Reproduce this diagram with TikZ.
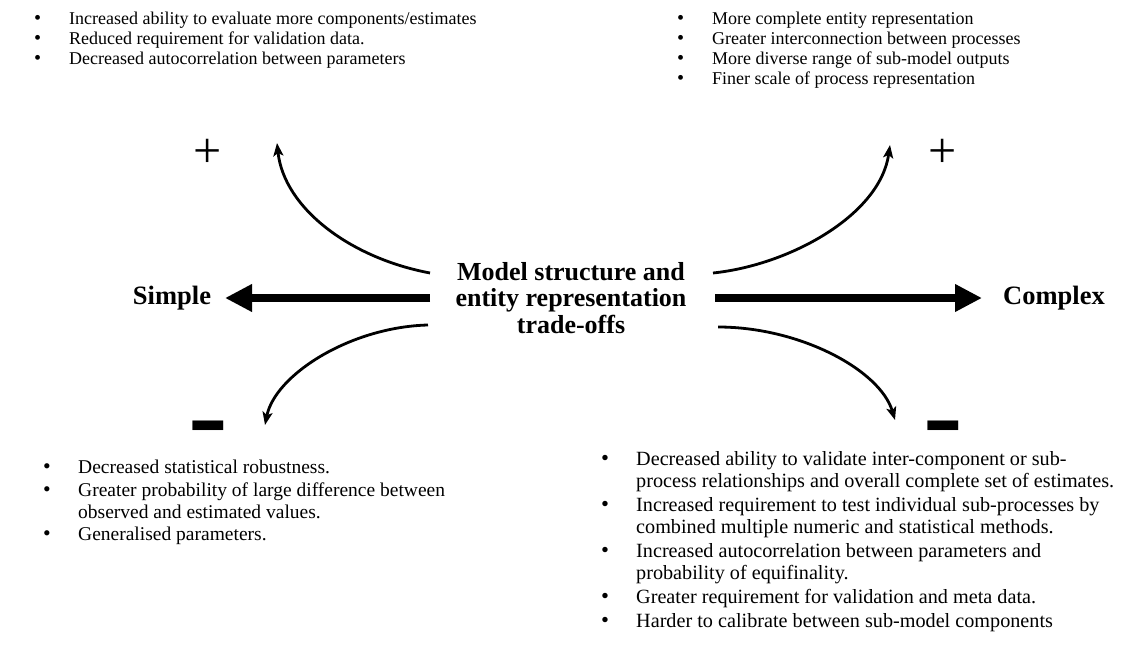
\documentclass[tikz,border=0pt]{standalone}
\usepackage{fontspec}
\setmainfont{Liberation Serif}
\newfontfamily\symbolFont{DejaVu Sans}
\usetikzlibrary{arrows.meta}
%% Fonts of the bullet lists.
\newcommand{\listFont}{\fontsize{18}{20}\selectfont}
\newcommand{\leftListFont}{\fontsize{19.5}{22}\selectfont}
\newcommand{\rightListFont}{\fontsize{20.2}{22}\selectfont}
%% Extra space between two items.
\newlength{\rowGap}
\setlength{\rowGap}{0pt}
%% One bulleted row of a list, and one item wrapped on two rows.
\newcommand{\listBullet}{\scalebox{1.12}{\textbullet}}
\newcommand{\bulletRow}[1]{\listBullet & #1\\[\rowGap]}
\newcommand{\wrapRow}[2]{\listBullet & #1\\ & #2\\[\rowGap]}
%% The thin plus and the heavy minus.
\newcommand{\plusSign}{+}
\newcommand{\minusSign}{\scalebox{1.12}[0.72]{\symbolFont\fontsize{36}{36}\selectfont ▬}}

\begin{document}
\begin{tikzpicture}[%%
  x=1pt,y=-1pt,%%
  bigArrowStyle/.style={-{Triangle[length=27pt,width=26pt]},line width=8pt},%%
  bendArrowStyle/.style={-{Stealth[length=13pt,width=10pt,inset=3pt]},line width=2.8pt},%%
  titleStyle/.style={font=\bfseries\fontsize{26}{26.5}\selectfont,align=center,inner sep=0pt},%%
  endStyle/.style={font=\bfseries\fontsize{26.5}{26}\selectfont,inner sep=0pt},%%
  signStyle/.style={font=\fontsize{50}{50}\selectfont,inner sep=0pt},%%
  listStyle/.style={anchor=north west,inner sep=0pt,font=\listFont}%%
]
\useasboundingbox (0,0) rectangle (1142,652);
%%
%%
%% Centre line of the picture.
\pgfmathsetmacro{\midY}{298}
%%
%% The title and the two ends.
\node[titleStyle] (title) at (571,\midY) {Model structure and\\entity representation\\trade-offs};
\node[endStyle] (simple) at (172,\midY) {Simple};
\node[endStyle] (complex) at (1054,\midY) {Complex};
%%
%% The signs.
\node[signStyle] (plusLeft) at (208,153) {\plusSign};
\node[signStyle] (plusRight) at (943,153) {\plusSign};
\node[signStyle] (minusLeft) at (208,427) {\minusSign};
\node[signStyle] (minusRight) at (943,427) {\minusSign};
%%
%% Ends of the straight arrows.
\coordinate (simpleTail) at (430,\midY);
\coordinate (simpleTip) at (225,\midY);
\coordinate (complexTail) at (715,\midY);
\coordinate (complexTip) at (982,\midY);
%%
%% Ends of the bent arrows.
\coordinate (upLeftTail) at (430,273);
\coordinate (upLeftTip) at (277,143);
\coordinate (downLeftTail) at (428,325);
\coordinate (downLeftTip) at (265,425);
\coordinate (upRightTail) at (713,273);
\coordinate (upRightTip) at (890,145);
\coordinate (downRightTail) at (718,327);
\coordinate (downRightTip) at (895,420);
%%
%% The straight arrows.
\draw[bigArrowStyle] (simpleTail) -- (simpleTip);
\draw[bigArrowStyle] (complexTail) -- (complexTip);
%%
%% The bent arrows.
\draw[bendArrowStyle] (upLeftTail) .. controls (350,258) and (284,208) .. (upLeftTip);
\draw[bendArrowStyle] (downLeftTail) .. controls (350,327) and (275,375) .. (downLeftTip);
\draw[bendArrowStyle] (upRightTail) .. controls (790,265) and (880,215) .. (upRightTip);
\draw[bendArrowStyle] (downRightTail) .. controls (800,327) and (880,370) .. (downRightTip);
%%
%% The four lists.
\node[listStyle] (simplePlus) at (34,10) {%%
  \begin{tabular}{@{}p{35pt}@{}l@{}}
  \bulletRow{Increased ability to evaluate more components/estimates}
  \bulletRow{Reduced requirement for validation data.}
  \bulletRow{Decreased autocorrelation between parameters}
  \end{tabular}};
\node[listStyle] (complexPlus) at (677,10) {%%
  \begin{tabular}{@{}p{35pt}@{}l@{}}
  \bulletRow{More complete entity representation}
  \bulletRow{Greater interconnection between processes}
  \bulletRow{More diverse range of sub-model outputs}
  \bulletRow{Finer scale of process representation}
  \end{tabular}};
\node[listStyle,font=\leftListFont] (simpleMinus) at (43,458) {%%
  \setlength{\rowGap}{0.5pt}%%
  \begin{tabular}{@{}p{35pt}@{}l@{}}
  \bulletRow{Decreased statistical robustness.}
  \wrapRow{Greater probability of large difference between}{observed and estimated values.}
  \bulletRow{Generalised parameters.}
  \end{tabular}};
\node[listStyle,font=\rightListFont] (complexMinus) at (601,450) {%%
  \setlength{\rowGap}{2pt}%%
  \begin{tabular}{@{}p{35pt}@{}l@{}}
  \wrapRow{Decreased ability to validate inter-component or sub-}{process relationships and overall complete set of estimates.}
  \wrapRow{Increased requirement to test individual sub-processes by}{combined multiple numeric and statistical methods.}
  \wrapRow{Increased autocorrelation between parameters and}{probability of equifinality.}
  \bulletRow{Greater requirement for validation and meta data.}
  \bulletRow{Harder to calibrate between sub-model components}
  \end{tabular}};
\end{tikzpicture}
\end{document}
